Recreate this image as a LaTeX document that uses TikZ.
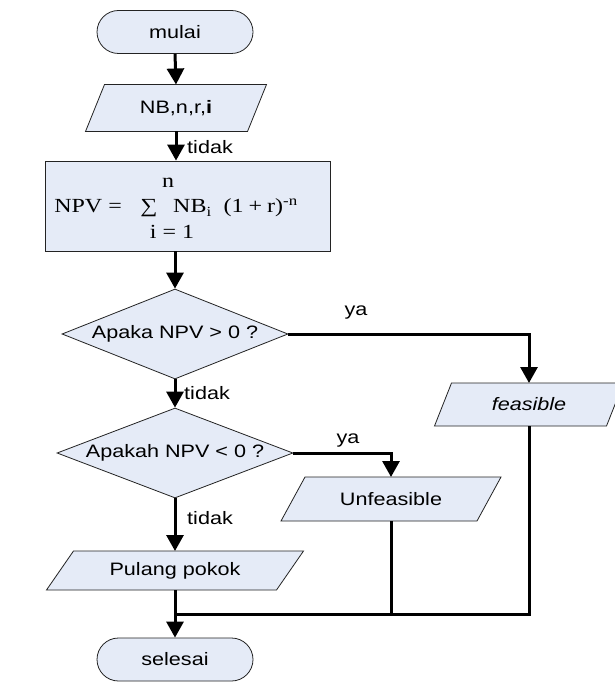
\documentclass[tikz,border=0pt]{standalone}
\usepackage{fontspec}
\setmainfont{Liberation Sans}[FakeStretch=1.2]
\newfontfamily\formulafont{Liberation Serif}[FakeStretch=1.2]
\usetikzlibrary{shapes.geometric,shapes.misc,arrows.meta,calc}
\pgfdeclarelayer{background}
\pgfsetlayers{background,main}
\definecolor{boxfill}{RGB}{229,235,247}
\definecolor{boxline}{RGB}{35,35,35}

\tikzset{
  shapeline/.style={draw=boxline, line width=0.8pt, fill=boxfill},
  labelfont/.style={font=\fontsize{18}{21}\selectfont},
  terminal/.style={rounded rectangle, shapeline, labelfont,
    minimum width=156pt, minimum height=43pt, inner sep=0pt},
  process/.style={rectangle, shapeline, minimum width=285pt,
    minimum height=90pt, inner sep=0pt},
  formula/.style={inner sep=0pt, font=\formulafont\fontsize{20}{22}\selectfont},
  decision/.style={diamond, shapeline, labelfont, aspect=2.5, inner sep=0pt},
  iotext/.style={rectangle, labelfont, outer sep=0pt, inner sep=0pt},
  flow/.style={line width=3pt, -{Triangle[width=17pt,length=16pt]}},
  link/.style={line width=3pt},
  lbl/.style={labelfont, inner sep=0pt},
}

% input/output box: name, centre, edge width, height, slant, text
\newcommand{\ioshape}[6]{%
  \node[iotext, minimum width={#3pt+#5pt}, minimum height=#4pt] (#1) at (#2) {#6};
  \begin{pgfonlayer}{background}
    \path[shapeline] ([xshift=#5pt]#1.north west) -- (#1.north east)
      -- ([xshift=-#5pt]#1.south east) -- (#1.south west) -- cycle;
  \end{pgfonlayer}%
}

\begin{document}
\begin{tikzpicture}[x=1pt, y=-1pt]
  \path[use as bounding box] (0,0) rectangle (614,684);
  \clip (0,0) rectangle (614,684);
  \begin{pgfonlayer}{background}
    \fill[white] (0,0) rectangle (614,684);
  \end{pgfonlayer}

  % main column
  \node[terminal] (start) at (175,32) {mulai};
  \ioshape{input}{176,108}{162}{47}{19}{NB,n,r,\textbf{i}}
  \node[process] (calc) at (187.5,206) {};
  \node[formula, anchor=base east] (lhs) at (122,213) {NPV =};
  \node[formula, anchor=base] (sigma) at (149,213) {∑};
  \node[formula, anchor=base] (upper) at (168,188) {n};
  \node[formula, anchor=base] (lower) at (172,239) {i = 1};
  \node[formula, anchor=base west] (term) at (173,213)
    {NB\textsubscript{i}\hspace{12pt}(1\hspace{5pt}+\hspace{5pt}r)\textsuperscript{-n}};
  \node[decision, minimum width=226pt, minimum height=90pt] (q1) at (175,334) {Apaka NPV > 0 ?};
  \node[decision, minimum width=236pt, minimum height=90pt] (q2) at (175,453) {Apakah NPV < 0 ?};
  \ioshape{pulang}{175,570.5}{230}{39}{27}{Pulang pokok}
  \node[terminal] (finish) at (175,659.5) {selesai};

  % side outputs
  \ioshape{feas}{529,404.5}{172}{43}{17}{\itshape feasible}
  \ioshape{unfeas}{391,499}{196}{44}{24}{Unfeasible}

  \coordinate (join) at (175,614);

  % connectors
  \draw[flow] (start.south) -- (input.north);
  \draw[flow] (input.south) -- (input.south |- calc.north);
  \draw[flow] (calc.south -| q1.north) -- (q1.north);
  \draw[flow] (q1.south) -- (q2.north);
  \draw[flow] (q1.east) -| (feas.north);
  \draw[flow] (q2.east) -| (unfeas.north);
  \draw[flow] (q2.south) -- (pulang.north);
  \draw[flow] (pulang.south) -- (finish.north);
  \draw[link] (unfeas.south) |- (join);
  \draw[link] (feas.south) |- (join);

  % branch labels
  \node[lbl, anchor=west] (t1) at (187,147) {tidak};
  \node[lbl, anchor=west] (t2) at (184,393) {tidak};
  \node[lbl, anchor=west] (t3) at (187,518) {tidak};
  \node[lbl] (y1) at (356,313) {ya};
  \node[lbl] (y2) at (348,441) {ya};
\end{tikzpicture}
\end{document}
